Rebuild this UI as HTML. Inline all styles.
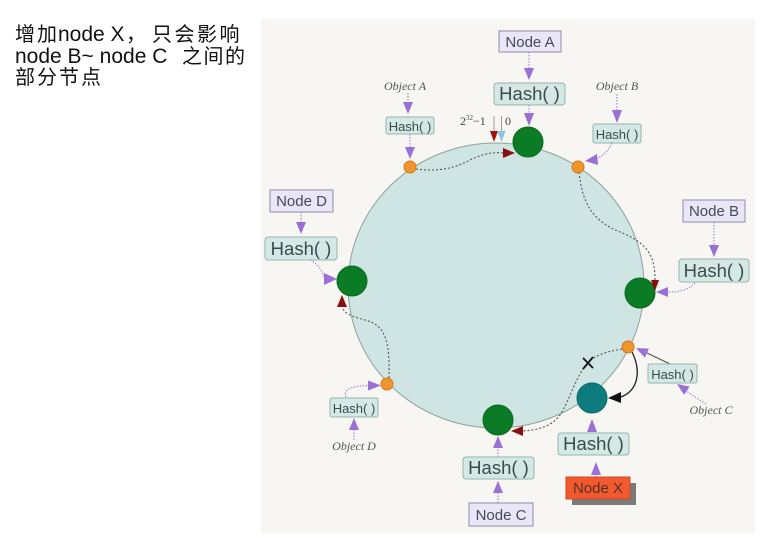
<!DOCTYPE html>
<html><head><meta charset="utf-8"><style>
html,body{margin:0;padding:0;background:#fff;width:780px;height:541px;overflow:hidden}
svg{display:block}
.t{font-family:"Liberation Sans","Noto Sans CJK SC",sans-serif;fill:#111}
.nb{fill:#e9e7f7;stroke:#8e8ca6;stroke-width:1}
.hb{fill:#d4e8e6;stroke:#98b2af;stroke-width:1}
.ht{font-family:"Liberation Sans",sans-serif;fill:#3b4b4b;text-anchor:middle}
.nt{font-family:"Liberation Sans",sans-serif;fill:#444a5a;text-anchor:middle;font-size:15px}
.ob{font-family:"Liberation Serif",serif;font-style:italic;fill:#555;font-size:12px;text-anchor:middle}
.pd{stroke:#a48bd0;stroke-width:1.2;stroke-dasharray:1.5 1.5;fill:none}
.pa{fill:#9a6fd6}
.dd{stroke:#555;stroke-width:1.1;stroke-dasharray:2 2;fill:none}
.ra{fill:#8b0f0f}
.g{fill:#0b7c25;stroke:#0a6a1f;stroke-width:1}
.o{fill:#f0942c;stroke:#d27a1e;stroke-width:1}
</style></head><body>
<svg width="780" height="541" viewBox="0 0 780 541" xmlns="http://www.w3.org/2000/svg">
<!-- title text -->
<text class="t" y="41"><tspan x="15" font-size="20" letter-spacing="2">增加</tspan><tspan x="58" font-size="21">node X</tspan><tspan x="126" font-size="20">，</tspan><tspan x="152" font-size="20" letter-spacing="2.5">只会影响</tspan></text>
<text class="t" y="63"><tspan x="15" font-size="21">node B~ node C</tspan><tspan x="182" font-size="20" letter-spacing="1.5">之间的</tspan></text>
<text class="t" y="84"><tspan x="15" font-size="20" letter-spacing="2">部分节点</tspan></text>

<!-- panel -->
<rect x="261" y="19" width="494" height="514" fill="#f7f6f2"/>

<!-- ring -->
<ellipse cx="496" cy="285.5" rx="148" ry="142.5" fill="#cfe5e3" stroke="#8fa09e" stroke-width="1"/>

<!-- Node A -->
<rect class="nb" x="499" y="31" width="62" height="21"/>
<text class="nt" x="530" y="47">Node A</text>
<line class="pd" x1="529" y1="52" x2="529" y2="69"/>
<polygon class="pa" points="524,68 534,68 529,80"/>
<rect class="hb" x="494" y="83" width="71" height="22" rx="3"/>
<text class="ht" x="529.5" y="100" font-size="18.5">Hash( )</text>
<line class="pd" x1="529" y1="105" x2="529" y2="114"/>
<polygon class="pa" points="524,113 534,113 529,126"/>
<circle class="g" cx="528" cy="142" r="15"/>

<!-- 2^32-1 and 0 -->
<text x="460" y="125" font-family="Liberation Serif,serif" font-size="12" fill="#444">2<tspan font-size="7" dy="-5">32</tspan><tspan dy="5">−1</tspan></text>
<text x="505" y="125" font-family="Liberation Serif,serif" font-size="12" fill="#444">0</text>
<line x1="494" y1="116" x2="494" y2="132" stroke="#999" stroke-width="1"/>
<line x1="501.5" y1="116" x2="501.5" y2="132" stroke="#999" stroke-width="1"/>
<polygon points="490,131 498,131 494,142" fill="#a01212"/>
<polygon points="497.5,131 505.5,131 501.5,142" fill="#8fc3df"/>

<!-- Object A -->
<text class="ob" x="405" y="90">Object A</text>
<line class="pd" x1="408" y1="93" x2="408" y2="103"/>
<polygon class="pa" points="403,102 413,102 408,114"/>
<rect class="hb" x="386" y="117" width="48" height="17" rx="2"/>
<text class="ht" x="410" y="131" font-size="13">Hash( )</text>
<line class="pd" x1="410" y1="134" x2="410" y2="148"/>
<polygon class="pa" points="405,147 415,147 410,159"/>
<path class="dd" d="M416,169 C440,172 455,168 470,160 C485,153 494,152 504,153"/>
<polygon class="ra" points="503,148 503,158 515,153"/>
<circle class="o" cx="410" cy="167" r="6"/>

<!-- Object B -->
<text class="ob" x="617" y="90">Object B</text>
<line class="pd" x1="617" y1="94" x2="617" y2="111"/>
<polygon class="pa" points="612,110 622,110 617,123"/>
<rect class="hb" x="593" y="124" width="48" height="19" rx="2"/>
<text class="ht" x="617" y="139" font-size="13">Hash( )</text>
<path class="pd" d="M612,143 C608,152 602,156 596,159"/>
<polygon class="pa" points="597,154 598,165 585,161"/>
<path class="dd" d="M579,172 C582,200 590,220 620,232 C650,244 655,258 655,281"/>
<circle class="o" cx="578" cy="167" r="6"/>

<!-- Node B -->
<rect class="nb" x="683" y="200" width="62" height="22"/>
<text class="nt" x="714" y="216">Node B</text>
<line class="pd" x1="714" y1="222" x2="714" y2="246"/>
<polygon class="pa" points="709,245 719,245 714,257"/>
<rect class="hb" x="679" y="259" width="70" height="23" rx="3"/>
<text class="ht" x="714" y="277" font-size="18.5">Hash( )</text>
<path class="pd" d="M695,283 C688,290 680,292 668,292"/>
<circle class="g" cx="640" cy="293" r="15"/>
<polygon class="pa" points="668,287 668,297 656,292"/>
<polygon class="ra" points="651,280 659,280 655,291"/>

<!-- Node D -->
<rect class="nb" x="270" y="190" width="63" height="22"/>
<text class="nt" x="301.5" y="206">Node D</text>
<line class="pd" x1="301" y1="212" x2="301" y2="223"/>
<polygon class="pa" points="296,222 306,222 301,234"/>
<rect class="hb" x="265" y="237" width="72" height="23" rx="3"/>
<text class="ht" x="301" y="255" font-size="18.5">Hash( )</text>
<path class="pd" d="M310,260 C320,265 322,272 325,279"/>
<polygon class="pa" points="324,273 324,285 337,279"/>
<circle class="g" cx="352" cy="281" r="15"/>
<polygon class="ra" points="337,307 347,307 342,295"/>
<path class="dd" d="M389,378 C390,340 385,325 365,320 C350,316 344,313 343,308"/>

<!-- Object D -->
<circle class="o" cx="387" cy="384" r="6"/>
<rect class="hb" x="330" y="398" width="48" height="19" rx="2"/>
<text class="ht" x="354" y="413" font-size="13">Hash( )</text>
<path class="pd" d="M346,397 C343,390 350,386 368,385.5"/>
<polygon class="pa" points="368,380.5 368,390.5 381,385.5"/>
<line class="pd" x1="354" y1="440" x2="354" y2="429"/>
<polygon class="pa" points="349,430 359,430 354,418"/>
<text class="ob" x="354" y="450">Object D</text>

<!-- Node C -->
<circle class="g" cx="498" cy="420" r="15"/>
<line class="pd" x1="498" y1="457" x2="498" y2="447"/>
<polygon class="pa" points="493,448 503,448 498,436"/>
<rect class="hb" x="463" y="457" width="71" height="22" rx="3"/>
<text class="ht" x="498.5" y="474" font-size="18.5">Hash( )</text>
<line class="pd" x1="498" y1="503" x2="498" y2="492"/>
<polygon class="pa" points="493,493 503,493 498,481"/>
<rect class="nb" x="469" y="503" width="64" height="23"/>
<text class="nt" x="501" y="520">Node C</text>

<!-- Object C path -->
<path class="dd" d="M622,349 C605,352 595,355 588,363 C576,375 570,400 560,415 C550,428 536,430 522,431"/>
<polygon class="ra" points="523,426 523,436 511,431"/>
<g stroke="#111" stroke-width="1.8">
<line x1="583" y1="358" x2="593" y2="368"/>
<line x1="593" y1="357" x2="583" y2="369"/>
</g>
<path d="M632,352 C641,370 639,390 621,397" stroke="#222" stroke-width="1.3" fill="none"/>
<polygon points="621,392 621,403 608,398" fill="#111"/>
<circle cx="592" cy="398" r="15" fill="#0e7c7e" stroke="#0b6a6c" stroke-width="1"/>
<circle class="o" cx="628" cy="347" r="6"/>

<!-- Object C -->
<line x1="670" y1="364" x2="647" y2="353" stroke="#555" stroke-width="1.2"/>
<polygon class="pa" points="636,348 649,348.6 644.8,357.6"/>
<rect class="hb" x="648" y="364" width="49" height="19" rx="2"/>
<text class="ht" x="672.5" y="379" font-size="13">Hash( )</text>
<line class="pd" x1="706" y1="404" x2="686" y2="391"/>
<polygon class="pa" points="677,384 689.7,386.6 684.1,394.8"/>
<text class="ob" x="711" y="414">Object C</text>

<!-- Node X -->
<polygon class="pa" points="587,432 597,432 592,419"/>
<rect class="hb" x="558" y="433" width="71" height="22" rx="3"/>
<text class="ht" x="593.5" y="450" font-size="18.5">Hash( )</text>
<line class="pd" x1="596" y1="477" x2="596" y2="474"/>
<polygon class="pa" points="591,475 601,475 596,462"/>
<rect x="572" y="483" width="64" height="22" fill="#7a7a7a"/>
<rect x="566" y="477" width="64" height="22" fill="#f05a2e" stroke="#d04a20" stroke-width="1"/>
<text class="nt" x="598" y="493" style="fill:#5a3028">Node X</text>
</svg>
</body></html>
